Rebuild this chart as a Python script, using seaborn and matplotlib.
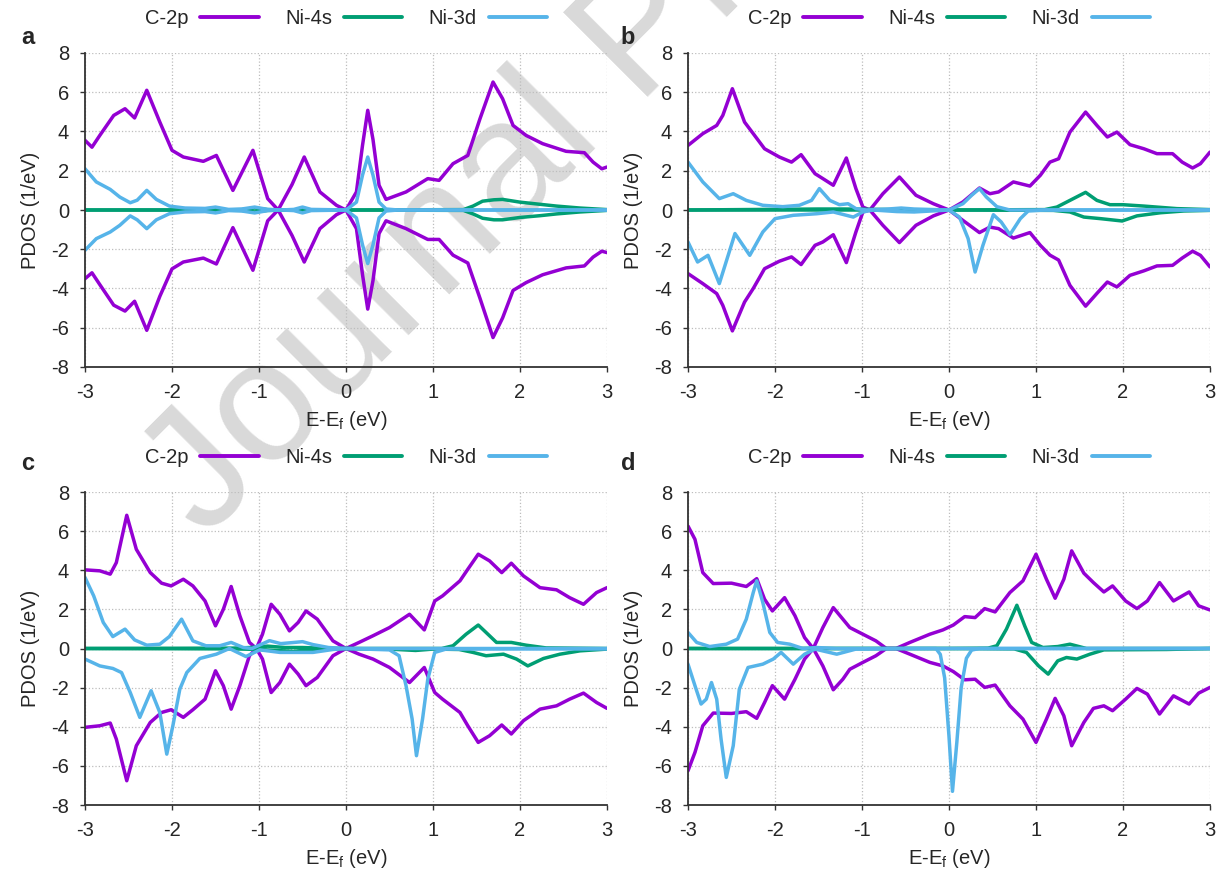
import matplotlib
matplotlib.use("Agg")
import matplotlib.pyplot as plt
from matplotlib.lines import Line2D
import numpy as np
import pandas as pd
import seaborn as sns

# ---------------- data ----------------
ORBITALS = ["C-2p", "Ni-4s", "Ni-3d"]
COLORS = ["#9400D3", "#009E73", "#56B4E9"]
PANEL_LABELS = ["a", "b", "c", "d"]
X_TICKS = [-3, -2, -1, 0, 1, 2, 3]
Y_TICKS = [-8, -6, -4, -2, 0, 2, 4, 6, 8]

# panel a
a_c2p_x = [-3, -2.92, -2.83, -2.67, -2.54, -2.43, -2.29, -2.14, -2.0, -1.87, -1.64, -1.49, -1.30, -1.07, -0.90,
           -0.78, -0.62, -0.48, -0.30, -0.11, 0, 0.12, 0.19, 0.25, 0.31, 0.38, 0.46, 0.69, 0.94, 1.07,
           1.23, 1.40, 1.54, 1.69, 1.80, 1.92, 2.07, 2.26, 2.53, 2.74, 2.84, 2.94, 3.0]
a_c2p_up = [3.55, 3.2, 3.8, 4.82, 5.16, 4.69, 6.1, 4.48, 3.04, 2.7, 2.48, 2.78, 1.0, 3.04, 0.58,
            0.0, 1.3, 2.7, 0.92, 0.24, 0, 0.92, 3.3, 5.08, 3.6, 1.26, 0.54, 0.92, 1.6, 1.51,
            2.36, 2.78, 4.65, 6.52, 5.67, 4.31, 3.8, 3.38, 2.99, 2.92, 2.44, 2.1, 2.19]
a_c2p_dn = [-3.5, -3.2, -3.8, -4.85, -5.15, -4.65, -6.13, -4.4, -3.0, -2.65, -2.45, -2.75, -0.9, -3.07, -0.55,
            0.0, -1.3, -2.65, -0.95, -0.24, 0, -0.95, -3.3, -5.05, -3.6, -1.2, -0.55, -0.95, -1.5, -1.5,
            -2.3, -2.7, -4.5, -6.5, -5.5, -4.1, -3.7, -3.3, -2.95, -2.85, -2.4, -2.1, -2.17]
a_3d_x = [-3, -2.87, -2.71, -2.60, -2.48, -2.40, -2.29, -2.18, -2.03, -1.85, -1.62, -1.50, -1.35, -1.20, -1.05,
          -0.90, -0.75, -0.60, -0.50, -0.40, -0.25, -0.10, 0, 0.12, 0.19, 0.25, 0.31, 0.38, 0.46, 0.6,
          1.0, 2.0, 3.0]
a_3d_up = [2.1, 1.43, 1.05, 0.66, 0.37, 0.5, 1.0, 0.54, 0.2, 0.1, 0.08, 0.15, 0.03, 0.05, 0.15,
           0.03, 0.0, 0.03, 0.15, 0.03, 0.02, 0.01, 0, 0.4, 1.78, 2.7, 1.78, 0.4, 0.05, 0.0,
           0.0, 0.0, 0.0]
a_3d_dn = [-2.05, -1.46, -1.12, -0.78, -0.3, -0.5, -0.95, -0.5, -0.19, -0.1, -0.08, -0.15, -0.03, -0.05, -0.15,
           -0.03, 0.0, -0.03, -0.15, -0.03, -0.02, -0.01, 0, -0.4, -1.78, -2.73, -1.78, -0.4, -0.05, 0.0,
           0.0, 0.0, 0.0]
a_4s_x = [-3, -1.5, -1.2, -1.05, -0.9, -0.6, -0.5, -0.4, 0, 1.35, 1.46, 1.57, 1.70, 1.80, 2.0, 2.23, 2.42, 2.69, 3.0]
a_4s_up = [0.0, 0.0, 0.02, 0.1, 0.02, 0.0, 0.05, 0.0, 0, 0.02, 0.2, 0.45, 0.52, 0.54, 0.4, 0.29, 0.2, 0.1, 0.02]
a_4s_dn = [0.0, 0.0, -0.02, -0.1, -0.02, 0.0, -0.05, 0, 0, -0.02, -0.2, -0.42, -0.5, -0.5, -0.38, -0.29, -0.2, -0.1, -0.02]

# panel b
b_c2p_x = [-3, -2.83, -2.67, -2.6, -2.49, -2.35, -2.25, -2.12, -1.95, -1.81, -1.70, -1.54, -1.45, -1.33, -1.18,
           -1.07, -0.99, -0.91, -0.76, -0.57, -0.38, -0.18, 0, 0.16, 0.35, 0.47, 0.57, 0.74, 0.93, 1.05,
           1.16, 1.26, 1.39, 1.57, 1.70, 1.82, 1.93, 2.08, 2.24, 2.39, 2.57, 2.68, 2.80, 2.89, 3.0]
b_c2p_up = [3.29, 3.89, 4.31, 4.82, 6.18, 4.48, 3.89, 3.12, 2.7, 2.44, 2.82, 1.85, 1.6, 1.26, 2.65,
            1.09, 0.15, 0, 0.83, 1.68, 0.75, 0.32, 0, 0.41, 1.12, 0.83, 0.92, 1.43, 1.22, 1.77,
            2.44, 2.61, 3.97, 4.99, 4.31, 3.72, 3.97, 3.33, 3.12, 2.87, 2.87, 2.44, 2.14, 2.36, 2.95]
b_c2p_dn = [-3.24, -3.75, -4.26, -4.86, -6.16, -4.69, -4.0, -2.99, -2.61, -2.39, -2.78, -1.8, -1.63, -1.26, -2.68,
            -1.12, -0.1, 0, -0.78, -1.66, -0.78, -0.3, 0, -0.53, -1.15, -0.87, -0.95, -1.43, -1.15, -1.8,
            -2.3, -2.55, -3.84, -4.9, -4.25, -3.67, -3.92, -3.33, -3.1, -2.85, -2.82, -2.45, -2.1, -2.31, -2.9]
b_3d_up_x = [-3, -2.83, -2.64, -2.48, -2.33, -2.14, -1.91, -1.72, -1.58, -1.49, -1.37, -1.26, -1.16, -1.07, -0.95,
             -0.7, -0.55, -0.4, 0, 0.16, 0.26, 0.35, 0.43, 0.55, 0.7, 1.0, 2.0, 3.0]
b_3d_up = [2.44, 1.43, 0.58, 0.83, 0.49, 0.24, 0.17, 0.24, 0.49, 1.09, 0.49, 0.27, 0.32, 0.07, 0.0,
           0.05, 0.1, 0.05, 0, 0.32, 0.75, 1.09, 0.66, 0.17, 0.0, 0.0, 0.0, 0.0]
b_3d_dn_x = [-3, -2.89, -2.77, -2.64, -2.46, -2.29, -2.14, -2.0, -1.79, -1.52, -1.33, -1.10, -0.99, -0.87, -0.6,
             -0.4, -0.2, 0, 0.12, 0.22, 0.30, 0.39, 0.51, 0.60, 0.70, 0.82, 0.91, 1.1, 2.0, 3.0]
b_3d_dn = [-1.63, -2.65, -2.31, -3.75, -1.2, -2.31, -1.12, -0.44, -0.27, -0.19, -0.1, -0.36, -0.1, 0.0, -0.08,
           -0.1, -0.05, 0, -0.36, -1.46, -3.16, -1.8, -0.24, -0.61, -1.26, -0.44, -0.05, 0, 0, 0]
b_4s_up_x = [-3, -1.5, -1.2, -0.6, 0, 1.1, 1.24, 1.39, 1.57, 1.70, 1.85, 2.0, 2.24, 2.62, 3.0]
b_4s_up = [0, 0.05, 0.05, 0.02, 0, 0.02, 0.15, 0.49, 0.9, 0.49, 0.27, 0.27, 0.2, 0.07, 0.02]
b_4s_dn_x = [-3, 0, 1.2, 1.39, 1.55, 1.74, 1.99, 2.16, 2.43, 2.7, 3.0]
b_4s_dn = [0, 0, -0.02, -0.1, -0.36, -0.44, -0.56, -0.3, -0.14, -0.05, -0.02]

# panel c
c_c2p_x = [-3, -2.83, -2.71, -2.64, -2.52, -2.41, -2.25, -2.12, -2.01, -1.87, -1.76, -1.62, -1.50, -1.41, -1.32,
           -1.22, -1.11, -1.03, -0.96, -0.86, -0.76, -0.65, -0.55, -0.46, -0.33, -0.15, 0, 0.15, 0.31, 0.5,
           0.73, 0.9, 1.02, 1.11, 1.31, 1.40, 1.52, 1.65, 1.79, 1.90, 2.04, 2.23, 2.42, 2.57, 2.73, 2.88, 3.0]
c_c2p_up = [4.02, 3.97, 3.8, 4.39, 6.81, 5.07, 3.88, 3.34, 3.2, 3.54, 3.2, 2.43, 1.16, 2.0, 3.17,
            1.67, 0.31, 0, 0.73, 2.26, 1.75, 0.9, 1.33, 1.92, 1.5, 0.39, 0, 0.31, 0.65, 1.07,
            1.75, 0.95, 2.43, 2.69, 3.46, 4.05, 4.82, 4.48, 3.88, 4.36, 3.71, 3.11, 3.0, 2.6, 2.26, 2.86, 3.11]
c_c2p_dn = [-4.03, -3.95, -3.81, -4.63, -6.76, -4.97, -3.78, -3.27, -3.13, -3.52, -3.13, -2.59, -1.14, -1.9, -3.1,
            -1.9, -0.37, 0, -0.54, -2.25, -1.74, -0.8, -1.31, -1.9, -1.48, -0.37, 0, -0.29, -0.54, -0.97,
            -1.74, -0.97, -2.25, -2.59, -3.27, -3.95, -4.8, -4.46, -3.91, -4.37, -3.69, -3.1, -2.93, -2.59, -2.28, -2.76, -3.06]
c_3d_up_x = [-3, -2.90, -2.79, -2.68, -2.54, -2.43, -2.29, -2.14, -2.03, -1.89, -1.76, -1.61, -1.45, -1.32, -1.18,
             -1.08, -0.98, -0.88, -0.75, -0.62, -0.50, -0.38, -0.2, 0, 1.0, 2.0, 3.0]
c_3d_up = [3.63, 2.69, 1.33, 0.61, 0.99, 0.44, 0.17, 0.22, 0.61, 1.5, 0.39, 0.14, 0.14, 0.31, 0.05,
           0.0, 0.2, 0.4, 0.25, 0.3, 0.35, 0.2, 0.05, 0, 0.0, 0.0, 0.0]
c_3d_dn_x = [-3, -2.83, -2.68, -2.58, -2.48, -2.37, -2.24, -2.14, -2.06, -1.99, -1.91, -1.83, -1.68, -1.49, -1.34,
             -1.15, -0.99, -0.76, -0.38, -0.15, 0, 0.5, 0.61, 0.69, 0.76, 0.81, 0.88, 0.94, 1.02, 1.15, 2.0, 3.0]
c_3d_dn = [-0.54, -0.89, -1.02, -1.23, -2.25, -3.52, -2.16, -3.27, -5.4, -3.95, -2.08, -1.23, -0.51, -0.29, 0.0,
           -0.41, -0.07, -0.2, -0.2, -0.05, 0, -0.07, -0.37, -1.9, -3.6, -5.48, -3.6, -1.57, -0.2, -0.03, -0.02, -0.02]
c_4s_up_x = [-3, -1.3, -1.1, -0.9, -0.7, -0.5, -0.3, 0, 0.7, 1.1, 1.23, 1.38, 1.52, 1.61, 1.73, 1.90, 2.07, 2.3, 3.0]
c_4s_up = [0, 0.02, 0.05, 0.12, 0.05, 0.05, 0.02, 0, 0.0, 0.0, 0.14, 0.73, 1.2, 0.82, 0.31, 0.31, 0.17, 0.03, 0.0]
c_4s_dn_x = [-3, -1.3, -1.0, -0.8, -0.6, -0.4, 0, 0.5, 0.8, 1.0, 1.3, 1.46, 1.61, 1.81, 1.96, 2.09, 2.27, 2.46, 2.69, 3.0]
c_4s_dn = [0, -0.02, -0.05, -0.1, -0.15, -0.05, 0, -0.03, -0.1, -0.03, -0.05, -0.2, -0.37, -0.29, -0.54,
           -0.89, -0.51, -0.29, -0.12, -0.03]

# panel d
d_c2p_x = [-3, -2.92, -2.83, -2.71, -2.50, -2.33, -2.21, -2.12, -2.03, -1.89, -1.77, -1.66, -1.56, -1.45, -1.33,
           -1.22, -1.14, -0.99, -0.84, -0.72, -0.61, -0.45, -0.22, -0.07, 0.05, 0.18, 0.30, 0.41, 0.53, 0.70,
           0.85, 1.0, 1.12, 1.22, 1.32, 1.41, 1.55, 1.66, 1.78, 1.88, 2.03, 2.16, 2.28, 2.42, 2.58, 2.76, 2.87, 3.0]
d_c2p_up = [6.26, 5.58, 3.88, 3.32, 3.34, 3.17, 3.57, 2.52, 1.92, 2.6, 1.67, 0.56, 0, 1.07, 2.09,
            1.5, 1.07, 0.73, 0.39, 0, 0, 0.31, 0.73, 0.95, 1.2, 1.63, 1.58, 2.04, 1.87, 2.86,
            3.46, 4.82, 3.54, 2.57, 3.54, 4.99, 3.85, 3.37, 2.89, 3.2, 2.43, 2.04, 2.43, 3.37, 2.43, 2.89, 2.18, 1.97]
d_c2p_dn = [-6.25, -5.31, -3.95, -3.3, -3.32, -3.23, -3.57, -2.76, -1.9, -2.59, -1.57, -0.54, 0, -0.89, -2.11,
            -1.57, -1.06, -0.71, -0.37, 0, 0, -0.29, -0.71, -0.89, -1.18, -1.6, -1.57, -1.99, -1.87, -2.93,
            -3.61, -4.8, -3.61, -2.55, -3.44, -4.97, -3.78, -3.06, -2.93, -3.18, -2.59, -2.04, -2.33, -3.35, -2.42,
            -2.84, -2.28, -1.99]
d_3d_up_x = [-3, -2.90, -2.75, -2.56, -2.43, -2.33, -2.25, -2.21, -2.14, -2.06, -1.97, -1.83, -1.68, -1.52, -1.3,
             -1.0, 0, 3.0]
d_3d_up = [0.82, 0.31, 0.1, 0.22, 0.48, 1.5, 2.86, 3.46, 2.35, 0.82, 0.31, 0.22, 0.0, 0.05, 0.0, 0.0, 0.0, 0.0]
d_3d_dn_x = [-3, -2.92, -2.85, -2.79, -2.73, -2.67, -2.62, -2.56, -2.48, -2.41, -2.31, -2.14, -2.02, -1.93, -1.79,
             -1.66, -1.54, -1.29, -1.07, -0.5, -0.15, -0.10, -0.05, 0.0, 0.04, 0.09, 0.14, 0.20, 0.26, 0.35, 1.0, 3.0]
d_3d_dn = [-0.8, -1.9, -2.84, -2.59, -1.74, -2.59, -4.63, -6.59, -4.97, -2.08, -0.97, -0.8, -0.54, -0.2, -0.8,
           -0.29, -0.03, -0.29, -0.03, 0.0, 0.0, -0.3, -1.5, -4.5, -7.3, -4.8, -2.0, -0.5, -0.08, 0.0, 0.0, 0.0]
d_4s_up_x = [-3, 0, 0.45, 0.55, 0.66, 0.78, 0.87, 0.95, 1.08, 1.25, 1.39, 1.58, 3.0]
d_4s_up = [0, 0, 0.02, 0.14, 0.99, 2.21, 1.16, 0.31, 0.05, 0.1, 0.22, 0.0, 0.0]
d_4s_dn_x = [-3, 0, 0.75, 0.89, 1.03, 1.14, 1.25, 1.35, 1.47, 1.62, 1.78, 2.5, 3.0]
d_4s_dn = [0, 0, -0.02, -0.2, -0.89, -1.31, -0.63, -0.46, -0.54, -0.29, -0.07, -0.05, 0.0]

PANELS = [
    [("C-2p", "up", a_c2p_x, a_c2p_up), ("C-2p", "dn", a_c2p_x, a_c2p_dn),
     ("Ni-4s", "up", a_4s_x, a_4s_up), ("Ni-4s", "dn", a_4s_x, a_4s_dn),
     ("Ni-3d", "up", a_3d_x, a_3d_up), ("Ni-3d", "dn", a_3d_x, a_3d_dn)],
    [("C-2p", "up", b_c2p_x, b_c2p_up), ("C-2p", "dn", b_c2p_x, b_c2p_dn),
     ("Ni-4s", "up", b_4s_up_x, b_4s_up), ("Ni-4s", "dn", b_4s_dn_x, b_4s_dn),
     ("Ni-3d", "up", b_3d_up_x, b_3d_up), ("Ni-3d", "dn", b_3d_dn_x, b_3d_dn)],
    [("C-2p", "up", c_c2p_x, c_c2p_up), ("C-2p", "dn", c_c2p_x, c_c2p_dn),
     ("Ni-4s", "up", c_4s_up_x, c_4s_up), ("Ni-4s", "dn", c_4s_dn_x, c_4s_dn),
     ("Ni-3d", "up", c_3d_up_x, c_3d_up), ("Ni-3d", "dn", c_3d_dn_x, c_3d_dn)],
    [("C-2p", "up", d_c2p_x, d_c2p_up), ("C-2p", "dn", d_c2p_x, d_c2p_dn),
     ("Ni-4s", "up", d_4s_up_x, d_4s_up), ("Ni-4s", "dn", d_4s_dn_x, d_4s_dn),
     ("Ni-3d", "up", d_3d_up_x, d_3d_up), ("Ni-3d", "dn", d_3d_dn_x, d_3d_dn)],
]

# ---------------- style ----------------
sns.set_theme(style="white")
plt.rcParams["font.family"] = ["Liberation Sans", "DejaVu Sans"]
plt.rcParams["mathtext.default"] = "regular"
plt.rcParams["axes.unicode_minus"] = False
plt.rcParams["lines.solid_joinstyle"] = "round"
plt.rcParams["lines.solid_capstyle"] = "round"

FS = 14.5
W, H = 1218, 872
fig = plt.figure(figsize=(W / 100, H / 100), dpi=100, facecolor="white")

def px_axes(left, top, right, bottom):
    return [left / W, 1 - bottom / H, (right - left) / W, (bottom - top) / H]

axes_px = [(85, 53, 607, 367), (688, 53, 1210, 367), (85, 492, 607, 805), (688, 492, 1210, 805)]
letter_px = [(28, 38), (628, 38), (28, 463), (628, 463)]

palette = dict(zip(ORBITALS, COLORS))

for i, (rect, curves) in enumerate(zip(axes_px, PANELS)):
    ax = fig.add_axes(px_axes(*rect))
    ax.set_facecolor("none")
    frames = []
    for orb, spin, xs, ys in curves:
        frames.append(pd.DataFrame({"x": xs, "y": ys, "orbital": orb, "spin": spin}))
    df = pd.concat(frames, ignore_index=True)
    sns.lineplot(data=df, x="x", y="y", hue="orbital", units="spin", estimator=None,
                 hue_order=ORBITALS, palette=palette, sort=False, linewidth=2.5,
                 legend=False, ax=ax)
    ax.set_xlim(-3, 3)
    ax.set_ylim(-8, 8)
    ax.set_xticks(X_TICKS)
    ax.set_yticks(Y_TICKS)
    ax.grid(True, color="#bdbdbd", linestyle=":", linewidth=0.9)
    for s in ["top", "right"]:
        ax.spines[s].set_visible(False)
    for s in ["left", "bottom"]:
        ax.spines[s].set_color("#333333")
        ax.spines[s].set_linewidth(1.3)
    ax.tick_params(direction="out", length=3.5, width=1, color="#333333",
                   labelsize=FS, pad=8, left=True, bottom=True)
    ax.set_xlabel("E-E$_f$ (eV)", fontsize=FS, labelpad=5)
    ax.set_ylabel("PDOS (1/eV)", fontsize=FS, labelpad=8)
    handles = [Line2D([0], [0], color=c, lw=2.8) for c in COLORS]
    ax.legend(handles, ORBITALS, ncol=3, markerfirst=False, frameon=False, loc="center",
              bbox_to_anchor=(0.5, 1.11), handlelength=2.9, handletextpad=0.6,
              columnspacing=1.3, fontsize=FS)
    lx, ly = letter_px[i]
    fig.text(lx / W, 1 - ly / H, PANEL_LABELS[i], fontsize=17, fontweight="bold",
             ha="center", va="center")

# watermark
fig.text(205 / W, 1 - 540 / H, "Journal Pre-proof", rotation=45, rotation_mode="anchor",
         ha="left", va="baseline", fontsize=124, color="#d9d9d9", zorder=-1)

fig.savefig("out.png", dpi=100, facecolor="white")
